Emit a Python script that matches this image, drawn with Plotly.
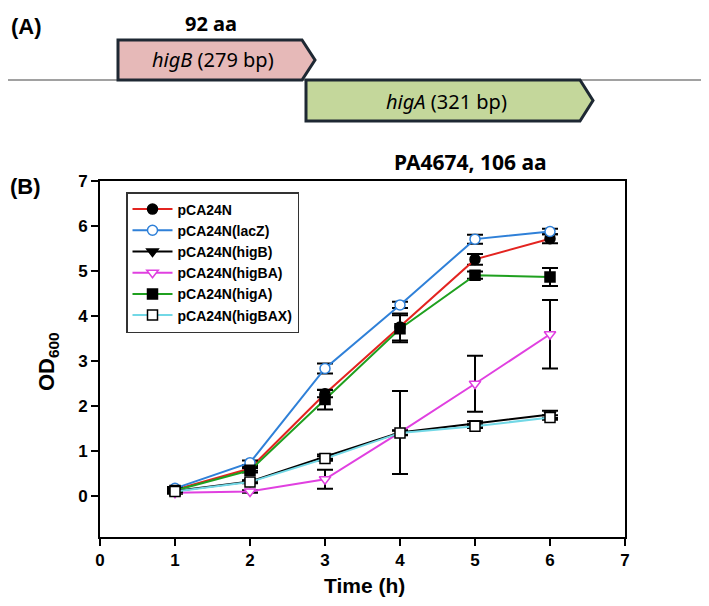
import plotly.graph_objects as go

# page body has an 8px margin; figure is sized/offset so the visible window matches
OFF = 8
W, H = 709 - OFF, 606 - OFF

time_h = [1, 2, 3, 4, 5, 6]
series_names = ["pCA24N", "pCA24N(lacZ)", "pCA24N(higB)", "pCA24N(higBA)", "pCA24N(higA)", "pCA24N(higBAX)"]
od_pCA24N = [0.15, 0.62, 2.28, 3.76, 5.26, 5.72]
err_pCA24N = [0.03, 0.05, 0.08, 0.30, 0.12, 0.10]
od_lacZ = [0.18, 0.75, 2.84, 4.25, 5.71, 5.88]
err_lacZ = [0.03, 0.05, 0.11, 0.07, 0.10, 0.06]
od_higB = [0.12, 0.33, 0.88, 1.42, 1.62, 1.82]
err_higB = [0.02, 0.03, 0.05, 0.05, 0.05, 0.08]
od_higBA = [0.08, 0.11, 0.38, 1.42, 2.50, 3.60]
err_higBA = [0.02, 0.03, 0.21, 0.92, 0.62, 0.76]
od_higA = [0.13, 0.58, 2.15, 3.72, 4.91, 4.87]
err_higA = [0.02, 0.05, 0.22, 0.30, 0.08, 0.20]
od_higBAX = [0.11, 0.32, 0.84, 1.41, 1.56, 1.75]
err_higBAX = [0.02, 0.03, 0.05, 0.05, 0.04, 0.05]

x_ticks = [0, 1, 2, 3, 4, 5, 6, 7]
y_ticks = [0, 1, 2, 3, 4, 5, 6, 7]


def px(x):
    return (x - OFF) / W


def py(y):
    return 1 - (y - OFF) / H


styles = [
    dict(line="#E32420", symbol="circle", fill="black", mline="black"),
    dict(line="#2F80D8", symbol="circle", fill="white", mline="#2F80D8"),
    dict(line="black", symbol="triangle-down", fill="black", mline="black"),
    dict(line="#E040E0", symbol="triangle-down", fill="white", mline="#E040E0"),
    dict(line="#1FA01F", symbol="square", fill="black", mline="black"),
    dict(line="#72D8E6", symbol="square", fill="white", mline="black"),
]
values = [od_pCA24N, od_lacZ, od_higB, od_higBA, od_higA, od_higBAX]
errors = [err_pCA24N, err_lacZ, err_higB, err_higBA, err_higA, err_higBAX]

fig = go.Figure()
for name, st, v, e in zip(series_names, styles, values, errors):
    fig.add_trace(go.Scatter(
        x=time_h, y=v, name=name, mode="lines+markers",
        line=dict(color=st["line"], width=2),
        marker=dict(symbol=st["symbol"], size=10, color=st["fill"],
                    line=dict(color=st["mline"], width=1.5)),
        error_y=dict(type="data", array=e, color="black", thickness=2, width=8),
    ))

fig.update_layout(
    width=W, height=H,
    margin=dict(l=0, r=0, t=0, b=0, autoexpand=False),
    paper_bgcolor="white", plot_bgcolor="white",
    font=dict(family="Arial, Liberation Sans", color="black"),
    showlegend=True,
    legend=dict(
        x=px(126), y=py(192), xanchor="left", yanchor="top",
        bordercolor="#333333", borderwidth=1.5, bgcolor="white",
        font=dict(size=14, family="Arial, Liberation Sans", weight="bold"),
        itemwidth=40, tracegroupgap=0,
    ),
    xaxis=dict(
        domain=[px(100), px(625)], range=[0, 7], tickvals=x_ticks, automargin=False,
        showgrid=False, zeroline=False, showline=True, linecolor="black", linewidth=2,
        mirror=True, ticks="outside", ticklen=7, tickwidth=2, tickcolor="black",
        tickfont=dict(size=17, weight="bold"),
    ),
    yaxis=dict(
        domain=[py(537), py(181)], range=[-0.9, 7], tickvals=y_ticks, automargin=False,
        showgrid=False, zeroline=False, showline=True, linecolor="black", linewidth=2,
        mirror=True, ticks="outside", ticklen=7, tickwidth=2, tickcolor="black",
        tickfont=dict(size=17, weight="bold"),
    ),
)


def note(x, y, text, size, family=None, angle=0, yanchor="middle"):
    f = dict(size=size)
    if family:
        f["family"] = family
    return dict(x=px(x), y=py(y), text=text, textangle=angle, font=f, showarrow=False,
                xref="paper", yref="paper", xanchor="center", yanchor=yanchor)


calib = "Noto Sans, Open Sans"
ann = [
    note(48, 362, "<b>OD<sub>600</sub></b>", 22, angle=-90),
    note(364, 585, "<b>Time (h)</b>", 21),
    note(25, 186, "<b>(B)</b>", 22),
    note(26, 27, "<b>(A)</b>", 22),
    note(211, 8, "<b>92 aa</b>", 20, calib, yanchor="top"),
    note(471, 162, "<b>PA4674, 106 aa</b>", 21, calib),
    note(213, 60, "<i>higB</i> (279 bp)", 20, calib),
    note(446, 101, "<i>higA</i> (321 bp)", 20, calib),
]

shapes = [dict(type="line", xref="paper", yref="paper", x0=0, x1=1, y0=py(80), y1=py(80),
               line=dict(color="#444444", width=1.2))]


def pent(x0, x1, xt, y0, y1):
    ym = (y0 + y1) / 2
    return (f"M{px(x0)},{py(y0)} L{px(x1)},{py(y0)} L{px(xt)},{py(ym)} "
            f"L{px(x1)},{py(y1)} L{px(x0)},{py(y1)} Z")


shapes.append(dict(type="path", xref="paper", yref="paper", path=pent(118, 302, 315, 40, 80),
                   fillcolor="#E6B9B8", line=dict(color="#1E2833", width=3)))
shapes.append(dict(type="path", xref="paper", yref="paper", path=pent(306, 580, 593, 80, 121),
                   fillcolor="#C4D79B", line=dict(color="#1E2833", width=3)))

fig.update_layout(annotations=ann, shapes=shapes)
fig.write_html("out.html")
